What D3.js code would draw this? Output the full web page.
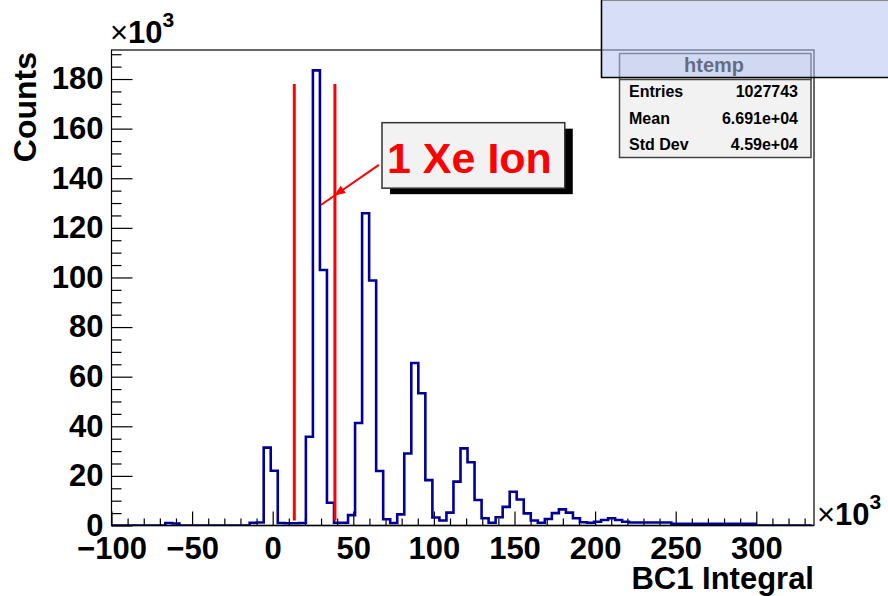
<!DOCTYPE html>
<html>
<head>
<meta charset="utf-8">
<script src="https://cdn.jsdelivr.net/npm/d3@7"></script>
<style>
	body { margin: 0; background: #ffffff; }
	svg  { display: block; font-family: "Liberation Sans", Arial, sans-serif; }
</style>
</head>
<body>
<div id="visualization"></div>
<script>
// ==================================================
// DATA
// ==================================================

// Histogram binning (x in units of 10^3)
var binLow   = -101.5;
var binWidth = 4.36;

// Counts per bin (units of 10^3), 100 bins
var counts = [
	0, 0, 0, 0, 0, 0, 0, 0, 1, 0.8,
	0, 0, 0, 0, 0, 0, 0, 0, 0, 0,
	1.1, 1.2, 31.4, 22.1, 1, 0.9, 0.9, 1, 35.8, 183.5,
	103, 9.2, 1.1, 1.1, 4.2, 41.3, 125.9, 98.8, 22, 2.5,
	1, 4.5, 29, 65.5, 53.3, 18.3, 3.2, 2, 5.2, 17.7,
	31.1, 25.5, 10.3, 2.9, 1.1, 3.3, 7.5, 13.6, 10.5, 4.9,
	2, 1.1, 2.6, 5, 6.5, 5.2, 2.9, 1.3, 1.1, 1.5,
	2.2, 2.9, 2.2, 1.5, 1.2, 1.2, 1.2, 1.2, 1.2, 1.2,
	0.7, 0.7, 0.7, 0.7, 0.7, 0.7, 0.7, 0.7, 0.7, 0.7,
	0.7, 0.7, 0, 0, 0, 0, 0, 0, 0, 0
];

// Axis ticks
var xTickValues = [-100, -50, 0, 50, 100, 150, 200, 250, 300];
var yTickValues = [0, 20, 40, 60, 80, 100, 120, 140, 160, 180];

// Cut lines (x positions, y from / to)
var cutLines = [13.4, 38.6];
var cutRange = [2, 178];

// Annotation
var noteText  = "1 Xe Ion";
var noteBox   = [67.8, 162.4, 181.2, 136];   // x0, y0, x1, y1
var noteArrow = [65.9, 145.4, 29.9, 129.2];  // from x, y -> to x, y
var noteHead  = [38.2, 133];

// Stats box
var statTitle  = "htemp";
var statLabels = ["Entries", "Mean", "Std Dev"];
var statValues = ["1027743", "6.691e+04", "4.59e+04"];


// ==================================================
// CANVAS
// ==================================================

var width  = 888;
var height = 596;
var frame  = { left: 111.5, right: 814, top: 50, bottom: 525.5 };

var svg = d3.select("#visualization")
	.append("svg")
		.attr("width",  width)
		.attr("height", height);

// Scales
var x = d3.scaleLinear()
	.domain([-100, 335.8])
	.range([frame.left, frame.right]);

var y = d3.scaleLinear()
	.domain([0, 191.7])
	.range([frame.bottom, frame.top]);

svg.append("clipPath")
	.attr("id", "frameClip")
	.append("rect")
		.attr("x", frame.left)
		.attr("y", frame.top)
		.attr("width",  frame.right - frame.left)
		.attr("height", frame.bottom - frame.top);


// ==================================================
// AXES
// ==================================================

var labelFont = "31px";

// Minor ticks
var yMinor = d3.range(0, 191, 5).filter(function(d) { return d % 20 != 0; });
var xMinor = d3.range(-100, 336, 10).filter(function(d) { return d % 50 != 0; });

svg.append("g")
	.attr("class", "y minor")
	.attr("transform", "translate(" + frame.left + ",0)")
	.call(d3.axisLeft(y).tickValues(yMinor).tickSize(-10).tickFormat(""));

svg.append("g")
	.attr("class", "x minor")
	.attr("transform", "translate(0," + frame.bottom + ")")
	.call(d3.axisBottom(x).tickValues(xMinor).tickSize(-7).tickFormat(""));

// Major ticks
var yAxis = svg.append("g")
	.attr("class", "y axis")
	.attr("transform", "translate(" + frame.left + ",0)")
	.call(d3.axisLeft(y).tickValues(yTickValues).tickSize(-21).tickPadding(8));

var xAxis = svg.append("g")
	.attr("class", "x axis")
	.attr("transform", "translate(0," + frame.bottom + ")")
	.call(d3.axisBottom(x).tickValues(xTickValues).tickSize(-14).tickPadding(11));

svg.selectAll(".axis text")
	.attr("font-family", "Liberation Sans, Arial, sans-serif")
	.attr("font-size", labelFont)
	.attr("font-weight", "bold")
	.attr("fill", "#000");

svg.selectAll(".axis .domain, .minor .domain").remove();
svg.selectAll(".tick line").attr("stroke", "#000").attr("stroke-width", 1.2);


// ==================================================
// HISTOGRAM
// ==================================================

var points = counts.map(function(c, i) { return [binLow + i * binWidth, c]; });
points.push([binLow + counts.length * binWidth, counts[counts.length - 1]]);

var stepLine = d3.line()
	.x(function(d) { return x(d[0]); })
	.y(function(d) { return y(d[1]); })
	.curve(d3.curveStepAfter);

svg.append("path")
	.datum(points)
	.attr("clip-path", "url(#frameClip)")
	.attr("d", stepLine)
	.attr("fill", "none")
	.attr("stroke", "#000099")
	.attr("stroke-width", 2.6);

// Frame
svg.append("rect")
	.attr("x", frame.left)
	.attr("y", frame.top)
	.attr("width",  frame.right - frame.left)
	.attr("height", frame.bottom - frame.top)
	.attr("fill", "none")
	.attr("stroke", "#000")
	.attr("stroke-width", 1.2);

svg.append("line")
	.attr("x1", frame.left).attr("x2", frame.right)
	.attr("y1", frame.bottom).attr("y2", frame.bottom)
	.attr("stroke", "#000")
	.attr("stroke-width", 1.6);

// Cut lines
svg.selectAll(".cut")
	.data(cutLines)
	.enter()
	.append("line")
		.attr("class", "cut")
		.attr("x1", function(d) { return x(d); })
		.attr("x2", function(d) { return x(d); })
		.attr("y1", y(cutRange[0]))
		.attr("y2", y(cutRange[1]))
		.attr("stroke", "#ff0000")
		.attr("stroke-width", 3);


// ==================================================
// TITLES
// ==================================================

svg.append("text")
	.attr("transform", "translate(36,52) rotate(-90)")
	.attr("text-anchor", "end")
	.attr("font-size", "32px")
	.attr("font-weight", "bold")
	.text("Counts");

svg.append("text")
	.attr("x", frame.right)
	.attr("y", 589)
	.attr("text-anchor", "end")
	.attr("font-size", "31px")
	.attr("font-weight", "bold")
	.text("BC1 Integral");

// Exponent labels
function exponent(xPos, yPos) {
	var t = svg.append("text")
		.attr("x", xPos)
		.attr("y", yPos)
		.attr("font-size", labelFont);
	t.append("tspan").text("\u00d7");
	t.append("tspan").attr("font-weight", "bold").text("10");
	t.append("tspan")
		.attr("font-size", "21px")
		.attr("font-weight", "bold")
		.attr("dy", -16)
		.text("3");
}

exponent(110, 43);
exponent(817, 525);


// ==================================================
// ANNOTATION
// ==================================================

var bx0 = x(noteBox[0]), by0 = y(noteBox[1]);
var bx1 = x(noteBox[2]), by1 = y(noteBox[3]);

svg.append("rect")
	.attr("x", bx0 + 8)
	.attr("y", by0 + 6)
	.attr("width",  bx1 - bx0)
	.attr("height", by1 - by0)
	.attr("fill", "#000");

svg.append("rect")
	.attr("x", bx0)
	.attr("y", by0)
	.attr("width",  bx1 - bx0)
	.attr("height", by1 - by0)
	.attr("fill", "#f2f2f2")
	.attr("stroke", "#333")
	.attr("stroke-width", 1.5);

svg.append("text")
	.attr("x", bx0 + 5)
	.attr("y", by0 + 50)
	.attr("font-size", "43px")
	.attr("font-weight", "bold")
	.attr("fill", "#ff0000")
	.text(noteText);

svg.append("line")
	.attr("x1", x(noteArrow[0])).attr("y1", y(noteArrow[1]))
	.attr("x2", x(noteArrow[2])).attr("y2", y(noteArrow[3]))
	.attr("stroke", "#ff0000")
	.attr("stroke-width", 2);

var ang = Math.atan2(y(noteArrow[3]) - y(noteArrow[1]), x(noteArrow[2]) - x(noteArrow[0]));
var hx  = x(noteHead[0]), hy = y(noteHead[1]);
var headPts = [
	[hx, hy],
	[hx - 11 * Math.cos(ang) + 4.5 * Math.sin(ang), hy - 11 * Math.sin(ang) - 4.5 * Math.cos(ang)],
	[hx - 11 * Math.cos(ang) - 4.5 * Math.sin(ang), hy - 11 * Math.sin(ang) + 4.5 * Math.cos(ang)]
];

svg.append("path")
	.attr("d", "M" + headPts.join("L") + "Z")
	.attr("fill", "#ff0000");


// ==================================================
// STATS BOX
// ==================================================

var stats = svg.append("g");

stats.append("rect")
	.attr("x", 619.5).attr("y", 53.5)
	.attr("width", 191.5).attr("height", 104)
	.attr("fill", "#f2f2f2")
	.attr("stroke", "#444")
	.attr("stroke-width", 1.5);

stats.append("line")
	.attr("x1", 619.5).attr("x2", 811)
	.attr("y1", 79.5).attr("y2", 79.5)
	.attr("stroke", "#444")
	.attr("stroke-width", 1.5);

stats.append("text")
	.attr("x", 714)
	.attr("y", 71.5)
	.attr("text-anchor", "middle")
	.attr("font-size", "20px")
	.attr("font-weight", "bold")
	.text(statTitle);

var rowY = [97, 124, 150];

stats.selectAll(".slabel")
	.data(statLabels)
	.enter()
	.append("text")
		.attr("x", 629)
		.attr("y", function(d, i) { return rowY[i]; })
		.attr("font-size", "16px")
		.attr("font-weight", "bold")
		.text(function(d) { return d; });

stats.selectAll(".svalue")
	.data(statValues)
	.enter()
	.append("text")
		.attr("x", 798)
		.attr("y", function(d, i) { return rowY[i]; })
		.attr("text-anchor", "end")
		.attr("font-size", "16px")
		.attr("font-weight", "bold")
		.text(function(d) { return d; });

// Translucent overlay box
svg.append("rect")
	.attr("x", 601.5).attr("y", 0.5)
	.attr("width", 300).attr("height", 77)
	.attr("fill", "rgb(180,196,240)")
	.attr("fill-opacity", 0.55)
	.attr("stroke", "#888")
	.attr("stroke-width", 1);

svg.append("path")
	.attr("d", "M601.5,0V77.5H888")
	.attr("fill", "none")
	.attr("stroke", "#000")
	.attr("stroke-width", 1.6);
</script>
</body>
</html>
